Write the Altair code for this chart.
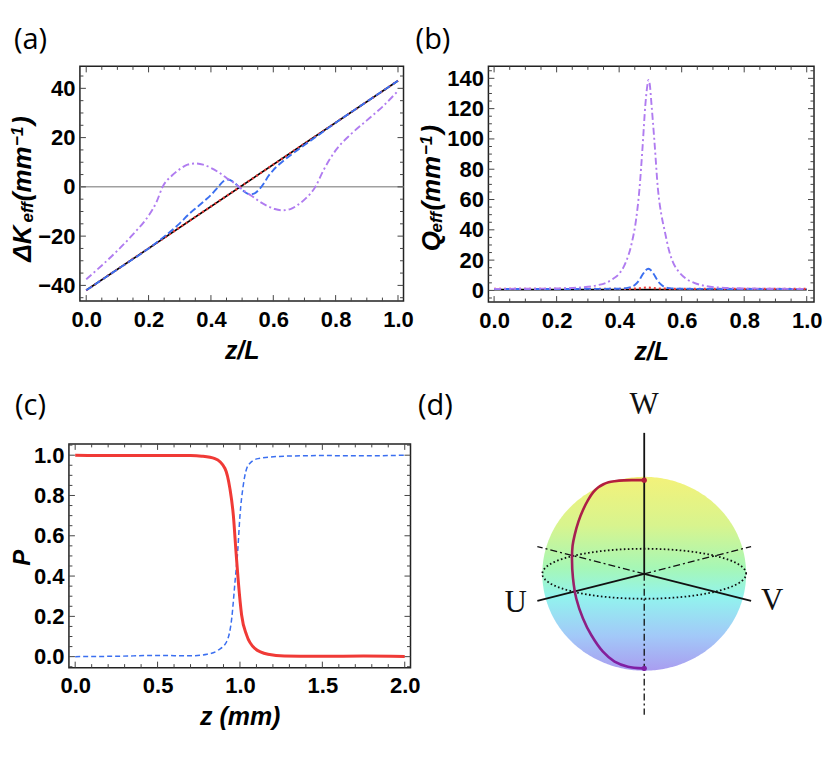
import altair as alt
import pandas as pd
import numpy as np

# ---------------- data ----------------
panel_labels = ["(a)", "(b)", "(c)", "(d)"]

# (a)  Delta K_eff vs z/L
a_black_x = [0.0, 1.0]
a_black_y = [-42.0, 43.1]
a_red_x = [0.0, 0.25, 0.5, 0.75, 1.0]
a_red_y = [-42.0, -20.7, 0.55, 21.8, 43.1]
a_blue_x = [0.0, 0.1, 0.2, 0.25, 0.3, 0.33, 0.36, 0.38, 0.4, 0.42, 0.44, 0.455, 0.47,
            0.49, 0.51, 0.525, 0.54, 0.555, 0.57, 0.585, 0.6, 0.63, 0.66, 0.7, 0.75,
            0.8, 0.9, 1.0]
a_blue_y = [-42.0, -33.5, -25.0, -20.2, -14.8, -11.0, -7.8, -5.6, -3.3, -0.5, 2.3, 3.0,
            2.2, 0.0, -2.2, -3.0, -2.6, -1.0, 1.5, 4.5, 6.8, 10.3, 13.3, 17.0, 21.5,
            26.0, 34.6, 43.1]
a_purple_x = [0.0, 0.05, 0.1, 0.15, 0.2, 0.225, 0.245, 0.275, 0.3, 0.325, 0.35, 0.375,
              0.4, 0.425, 0.45, 0.475, 0.49, 0.505, 0.53, 0.555, 0.58, 0.605, 0.63,
              0.655, 0.68, 0.705, 0.735, 0.76, 0.8, 0.85, 0.9, 0.95, 1.0]
a_purple_y = [-37.5, -31.9, -25.9, -19.3, -11.7, -6.3, 0.0, 4.6, 7.2, 9.0, 9.5, 9.0,
              7.7, 5.9, 3.6, 1.5, 0.0, -1.5, -3.6, -5.9, -7.7, -9.0, -9.5, -9.0, -7.2,
              -4.6, 0.0, 6.5, 14.8, 21.5, 27.0, 32.5, 39.0]
a_zero = [0.0]
a_xticks = [0.0, 0.2, 0.4, 0.6, 0.8, 1.0]
a_yticks = [-40, -20, 0, 20, 40]

# (b)  Q_eff vs z/L
b_black_x = [0.0, 1.0]
b_black_y = [0.5, 0.5]
b_red_x = [0.0, 0.4, 0.46, 0.49, 0.52, 0.6, 1.0]
b_red_y = [1.0, 1.0, 1.3, 1.9, 1.3, 1.0, 1.0]
b_blue_x = [0.0, 0.3, 0.4, 0.43, 0.45, 0.465, 0.475, 0.485, 0.493, 0.5, 0.51, 0.52,
            0.53, 0.545, 0.56, 0.6, 0.7, 1.0]
b_blue_y = [0.9, 1.0, 1.1, 1.8, 3.6, 7.0, 10.5, 13.3, 14.3, 13.6, 11.0, 7.5, 4.6, 2.3,
            1.5, 1.1, 1.0, 0.9]
b_purple_x = [0.0, 0.1, 0.2, 0.25, 0.3, 0.33, 0.36, 0.38, 0.4, 0.42, 0.44, 0.455, 0.465,
              0.475, 0.484, 0.49, 0.494, 0.498, 0.503, 0.513, 0.524, 0.535, 0.545, 0.56,
              0.572, 0.59, 0.614, 0.64, 0.68, 0.72, 0.8, 0.9, 1.0]
b_purple_y = [1.0, 1.1, 1.3, 1.6, 2.4, 3.4, 5.2, 7.6, 11.0, 18.0, 31.0, 48.0, 67.0, 95.0,
              123.0, 135.0, 139.0, 136.0, 124.0, 98.0, 67.0, 50.0, 40.0, 26.0, 18.7,
              12.5, 7.7, 5.0, 2.8, 1.9, 1.3, 1.1, 1.0]
b_xticks = [0.0, 0.2, 0.4, 0.6, 0.8, 1.0]
b_yticks = [0, 20, 40, 60, 80, 100, 120, 140]

# (c)  P vs z
c_red_x = [0.0, 0.25, 0.5, 0.7, 0.768, 0.848, 0.909, 0.939, 0.96, 0.976, 0.99, 1.01,
           1.04, 1.09, 1.17, 1.27, 1.5, 1.75, 2.0]
c_red_y = [1.0, 0.998, 0.999, 0.998, 0.995, 0.983, 0.934, 0.834, 0.70, 0.52, 0.372,
           0.207, 0.108, 0.041, 0.012, 0.003, 0.002, 0.003, 0.001]
c_blue_x = [0.0, 0.25, 0.5, 0.7, 0.8, 0.869, 0.919, 0.95, 0.97, 0.986, 1.0, 1.02, 1.05,
            1.11, 1.27, 1.5, 1.75, 2.0]
c_blue_y = [0.0, 0.002, 0.006, 0.004, 0.012, 0.033, 0.074, 0.19, 0.372, 0.52, 0.70,
            0.85, 0.95, 0.983, 0.995, 0.998, 0.997, 1.0]
c_xticks = [0.0, 0.5, 1.0, 1.5, 2.0]
c_yticks = [0.0, 0.2, 0.4, 0.6, 0.8, 1.0]

# (d)  Bloch sphere (units of sphere radius)
d_traj_x = [0.003, -0.100, -0.200, -0.291, -0.350, -0.400, -0.450, -0.500, -0.552,
            -0.600, -0.645, -0.683, -0.703, -0.709, -0.699, -0.667, -0.601, -0.520,
            -0.405, -0.291, -0.160, -0.013]
d_traj_y = [0.966, 0.966, 0.964, 0.955, 0.944, 0.924, 0.892, 0.842, 0.760, 0.660,
            0.540, 0.399, 0.290, 0.150, -0.048, -0.255, -0.461, -0.632, -0.804, -0.907,
            -0.959, -0.976]
d_pole_x = [0.0, 0.0]
d_pole_y = [0.966, -0.976]
d_solid_axes = {"x": [0, 0, 0], "y": [0, 0, 0], "x2": [0.0, -1.049, 1.049], "y2": [1.454, -0.281, -0.281]}
d_dashed_axes = {"x": [0, 0, 0], "y": [0, 0, 0], "x2": [0.0, 1.049, -1.049], "y2": [-1.454, 0.281, 0.281]}
d_axis_names = ["U", "V", "W"]
d_axis_name_x = [-1.262, 1.255, 0.0]
d_axis_name_y = [-0.306, -0.278, 1.742]
d_equator_ratio = 0.258

# ---------------- style ----------------
SANS = "Liberation Sans"
RED = "#f03a36"
BLUE = "#3b6ff0"
PURPLE = "#b07cf0"
TICK = "#444444"
one = pd.DataFrame({"k": [0]})


def minor_list(lo, hi, step, majors):
    vals = np.round(np.arange(lo, hi + step / 2, step), 4)
    maj = set(np.round(majors, 4))
    return [float(v) for v in vals if float(v) not in maj]


def make_enc(xs, ys, ax, ay):
    X = lambda f: alt.X(f"{f}:Q", scale=xs, axis=ax)
    Y = lambda f: alt.Y(f"{f}:Q", scale=ys, axis=ay)
    return X, Y


def line(x, y, X, Y, color, width, dash=None, interp="monotone"):
    kw = dict(color=color, strokeWidth=width, interpolate=interp, clip=True)
    if dash:
        kw["strokeDash"] = dash
    return alt.Chart(pd.DataFrame({"x": x, "y": y})).mark_line(**kw).encode(x=X("x"), y=Y("y"))


def tick_layers(xmaj, xmin, ymaj, ymin, X, Y, W, H):
    out = []
    for vals, ln in ((xmaj, 6), (xmin, 3.5)):
        df = pd.DataFrame({"v": vals})
        out.append(alt.Chart(df).mark_rule(color=TICK, strokeWidth=1).encode(
            x=X("v"), y=alt.value(H), y2=alt.value(H - ln)))
        out.append(alt.Chart(df).mark_rule(color=TICK, strokeWidth=1).encode(
            x=X("v"), y=alt.value(0), y2=alt.value(ln)))
    for vals, ln in ((ymaj, 6), (ymin, 3.5)):
        df = pd.DataFrame({"v": vals})
        out.append(alt.Chart(df).mark_rule(color=TICK, strokeWidth=1).encode(
            y=Y("v"), x=alt.value(0), x2=alt.value(ln)))
        out.append(alt.Chart(df).mark_rule(color=TICK, strokeWidth=1).encode(
            y=Y("v"), x=alt.value(W), x2=alt.value(W - ln)))
    return out


def txt(s, x, y, size, font=SANS, weight="bold", style="italic", angle=0, color="#000"):
    kw = dict(text=s, font=font, fontSize=size, fontWeight=weight, fontStyle=style,
              align="center", baseline="middle", color=color)
    if angle:
        kw["angle"] = angle
    return alt.Chart(one).mark_text(**kw).encode(x=alt.value(x), y=alt.value(y))


def plain(s, x, y, size):
    return txt(s, x, y, size, font="Open Sans", weight="normal", style="normal")


def xaxis(vals, fmt, title):
    return alt.Axis(values=vals, format=fmt, title=title, labelPadding=8, titlePadding=8,
                    labelFlush=False, labelOverlap=False)


def yaxis(vals, fmt):
    return alt.Axis(values=vals, format=fmt, title=None, labelPadding=5, labelOverlap=False)


# ---------------- panel (a) ----------------
AW, AH = 324, 235
xs = alt.Scale(domain=[-0.0202, 1.0177], nice=False, zero=False)
ys = alt.Scale(domain=[-46.37, 48.92], nice=False, zero=False)
X, Y = make_enc(xs, ys, xaxis(a_xticks, ".1f", "z/L"), yaxis(a_yticks, "d"))
pa = [
    alt.Chart(pd.DataFrame({"y": a_zero})).mark_rule(color="#a0a0a0", strokeWidth=1.5).encode(y=Y("y")),
    line(a_black_x, a_black_y, X, Y, "#000000", 1.7, interp="linear"),
    line(a_red_x, a_red_y, X, Y, RED, 2.2, [2, 3], interp="linear"),
    line(a_blue_x, a_blue_y, X, Y, BLUE, 1.9, [7, 3]),
    line(a_purple_x, a_purple_y, X, Y, PURPLE, 1.9, [7, 3, 2, 3]),
]
pa += tick_layers(a_xticks, minor_list(0, 1, 0.05, a_xticks), a_yticks,
                  minor_list(-45, 45, 5, a_yticks), X, Y, AW, AH)
pa += [
    plain(panel_labels[0], -49.5, -26, 29),
    txt("ΔK", -56.5, 177.5, 26, angle=270),
    txt("eff", -52, 146, 17, angle=270),
    txt("(mm", -56.5, 107.5, 26, angle=270),
    txt("−1", -62, 70, 17, angle=270),
    txt(")", -56.5, 54, 26, angle=270),
]
chart_a = alt.layer(*pa).properties(width=AW, height=AH)

# ---------------- panel (b) ----------------
BW, BH = 326, 236
xs = alt.Scale(domain=[-0.0182, 1.0233], nice=False, zero=False)
ys = alt.Scale(domain=[-7.7, 147.9], nice=False, zero=False)
X, Y = make_enc(xs, ys, xaxis(b_xticks, ".1f", "z/L"), yaxis(b_yticks, "d"))
pb = [
    line(b_black_x, b_black_y, X, Y, "#000000", 1.7, interp="linear"),
    line(b_red_x, b_red_y, X, Y, RED, 2.2, [2, 3]),
    line(b_blue_x, b_blue_y, X, Y, BLUE, 1.9, [7, 3]),
    line(b_purple_x, b_purple_y, X, Y, PURPLE, 1.9, [7, 3, 2, 3]),
]
pb += tick_layers(b_xticks, minor_list(0, 1, 0.05, b_xticks), b_yticks,
                  minor_list(-5, 145, 5, b_yticks), X, Y, BW, BH)
pb += [
    plain(panel_labels[1], -55.5, -26, 29),
    txt("Q", -56, 175, 26, angle=270),
    txt("eff", -51.5, 156, 17, angle=270),
    txt("(mm", -56, 117, 26, angle=270),
    txt("−1", -61.5, 79, 17, angle=270),
    txt(")", -56, 63, 26, angle=270),
]
chart_b = alt.layer(*pb).properties(width=BW, height=BH)

# ---------------- panel (c) ----------------
CW, CH = 342, 224
xs = alt.Scale(domain=[-0.038, 2.035], nice=False, zero=False)
ys = alt.Scale(domain=[-0.0545, 1.056], nice=False, zero=False)
X, Y = make_enc(xs, ys, xaxis(c_xticks, ".1f", "z (mm)"), yaxis(c_yticks, ".1f"))
pc = [
    line(c_blue_x, c_blue_y, X, Y, BLUE, 1.5, [5, 3]),
    line(c_red_x, c_red_y, X, Y, RED, 3),
]
pc += tick_layers(c_xticks, minor_list(0, 2, 0.1, c_xticks), c_yticks,
                  minor_list(-0.05, 1.05, 0.05, c_yticks), X, Y, CW, CH)
pc += [
    plain(panel_labels[2], -38.5, -38, 29),
    txt("P", -46, 114, 24, angle=270),
]
chart_c = alt.layer(*pc).properties(width=CW, height=CH)

# ---------------- panel (d) ----------------
DW, DH = 400, 280
dxs = alt.Scale(domain=[-2.186, 1.735], nice=False, zero=False)
dys = alt.Scale(domain=[-1.546, 1.340], nice=False, zero=False)
DX = lambda f: alt.X(f"{f}:Q", scale=dxs, axis=None)
DY = lambda f: alt.Y(f"{f}:Q", scale=dys, axis=None)
DX2 = lambda f: alt.X2(f"{f}:Q")
DY2 = lambda f: alt.Y2(f"{f}:Q")

t = np.linspace(0, np.pi, 181)
sphere = pd.DataFrame({"x": np.cos(t), "top": np.sin(t), "bot": -np.sin(t)})
grad = alt.LinearGradient(
    gradient="linear",
    stops=[
        alt.GradientStop(color="#f3f27a", offset=0.0),
        alt.GradientStop(color="#d8f48e", offset=0.25),
        alt.GradientStop(color="#a6f7b6", offset=0.47),
        alt.GradientStop(color="#92f3ee", offset=0.62),
        alt.GradientStop(color="#a2c9f8", offset=0.82),
        alt.GradientStop(color="#a99df0", offset=1.0),
    ],
    x1=0, x2=0, y1=0, y2=1,
)
te = np.linspace(0, 2 * np.pi, 241)
equator = pd.DataFrame({"x": np.cos(te), "y": d_equator_ratio * np.sin(te), "i": np.arange(len(te))})
traj = pd.DataFrame({"x": d_traj_x, "y": d_traj_y, "i": range(len(d_traj_x))})
tgrad = alt.LinearGradient(
    gradient="linear",
    stops=[alt.GradientStop(color="#b41f3c", offset=0.0),
           alt.GradientStop(color="#9c2060", offset=0.5),
           alt.GradientStop(color="#7f1fa6", offset=1.0)],
    x1=0, x2=0, y1=0, y2=1,
)
pd_layers = [
    alt.Chart(sphere).mark_area(fill=grad, strokeWidth=0).encode(x=DX("x"), y=DY("top"), y2=DY2("bot")),
    alt.Chart(equator).mark_line(color="#111", strokeWidth=1.8, strokeDash=[1.6, 2.4]).encode(
        x=DX("x"), y=DY("y"), order="i:Q"),
    alt.Chart(pd.DataFrame(d_dashed_axes)).mark_rule(color="#111", strokeWidth=1.3, strokeDash=[7, 3, 2, 3]).encode(
        x=DX("x"), y=DY("y"), x2=DX2("x2"), y2=DY2("y2")),
    alt.Chart(pd.DataFrame(d_solid_axes)).mark_rule(color="#111", strokeWidth=1.8).encode(
        x=DX("x"), y=DY("y"), x2=DX2("x2"), y2=DY2("y2")),
    alt.Chart(traj).mark_line(stroke=tgrad, strokeWidth=2.6, interpolate="catmull-rom").encode(
        x=DX("x"), y=DY("y"), order="i:Q"),
    alt.Chart(pd.DataFrame({"x": d_pole_x, "y": d_pole_y, "c": ["#b41f3c", "#7f1fa6"]})).mark_point(
        filled=True, size=28, opacity=1).encode(x=DX("x"), y=DY("y"), color=alt.Color("c:N", scale=None)),
    alt.Chart(pd.DataFrame({"x": d_axis_name_x, "y": d_axis_name_y, "s": d_axis_names})).mark_text(
        font="Liberation Serif", fontSize=31, color="#111").encode(x=DX("x"), y=DY("y"), text="s:N"),
    plain(panel_labels[3], 14, -38, 29),
]
chart_d = alt.layer(*pd_layers).properties(width=DW, height=DH,
                                           view=alt.ViewBackground(stroke="transparent"))


def spacer(w, h, anchor=None):
    ax, ay = anchor if anchor else (0, 0)
    return alt.Chart(one).mark_point(opacity=0, size=2).encode(
        x=alt.value(ax), y=alt.value(ay)).properties(
        width=w, height=h, view=alt.ViewBackground(stroke="transparent"))


row1 = alt.hconcat(spacer(11, 10, (-59, -56)), chart_a, spacer(85, 10), chart_b,
                   spacing=0, bounds="flush")
row2 = alt.hconcat(chart_c, spacer(11, 10), chart_d, spacing=0, bounds="flush")

# nested rows count with zero height in a flush layout, so the gap includes row 1's 236px
chart = alt.vconcat(row1, row2, spacing=378, bounds="flush").properties(
    padding=0
).configure_view(
    stroke="#222222", strokeWidth=1.5
).configure_axis(
    grid=False, domain=False, ticks=False, tickSize=0,
    labelFont=SANS, labelFontSize=22, labelFontWeight="bold", labelColor="#000",
    titleFont=SANS, titleFontSize=25, titleFontWeight="bold", titleFontStyle="italic",
    titleColor="#000",
)

chart.save("out.html", embed_options={"renderer": "svg", "actions": False})
